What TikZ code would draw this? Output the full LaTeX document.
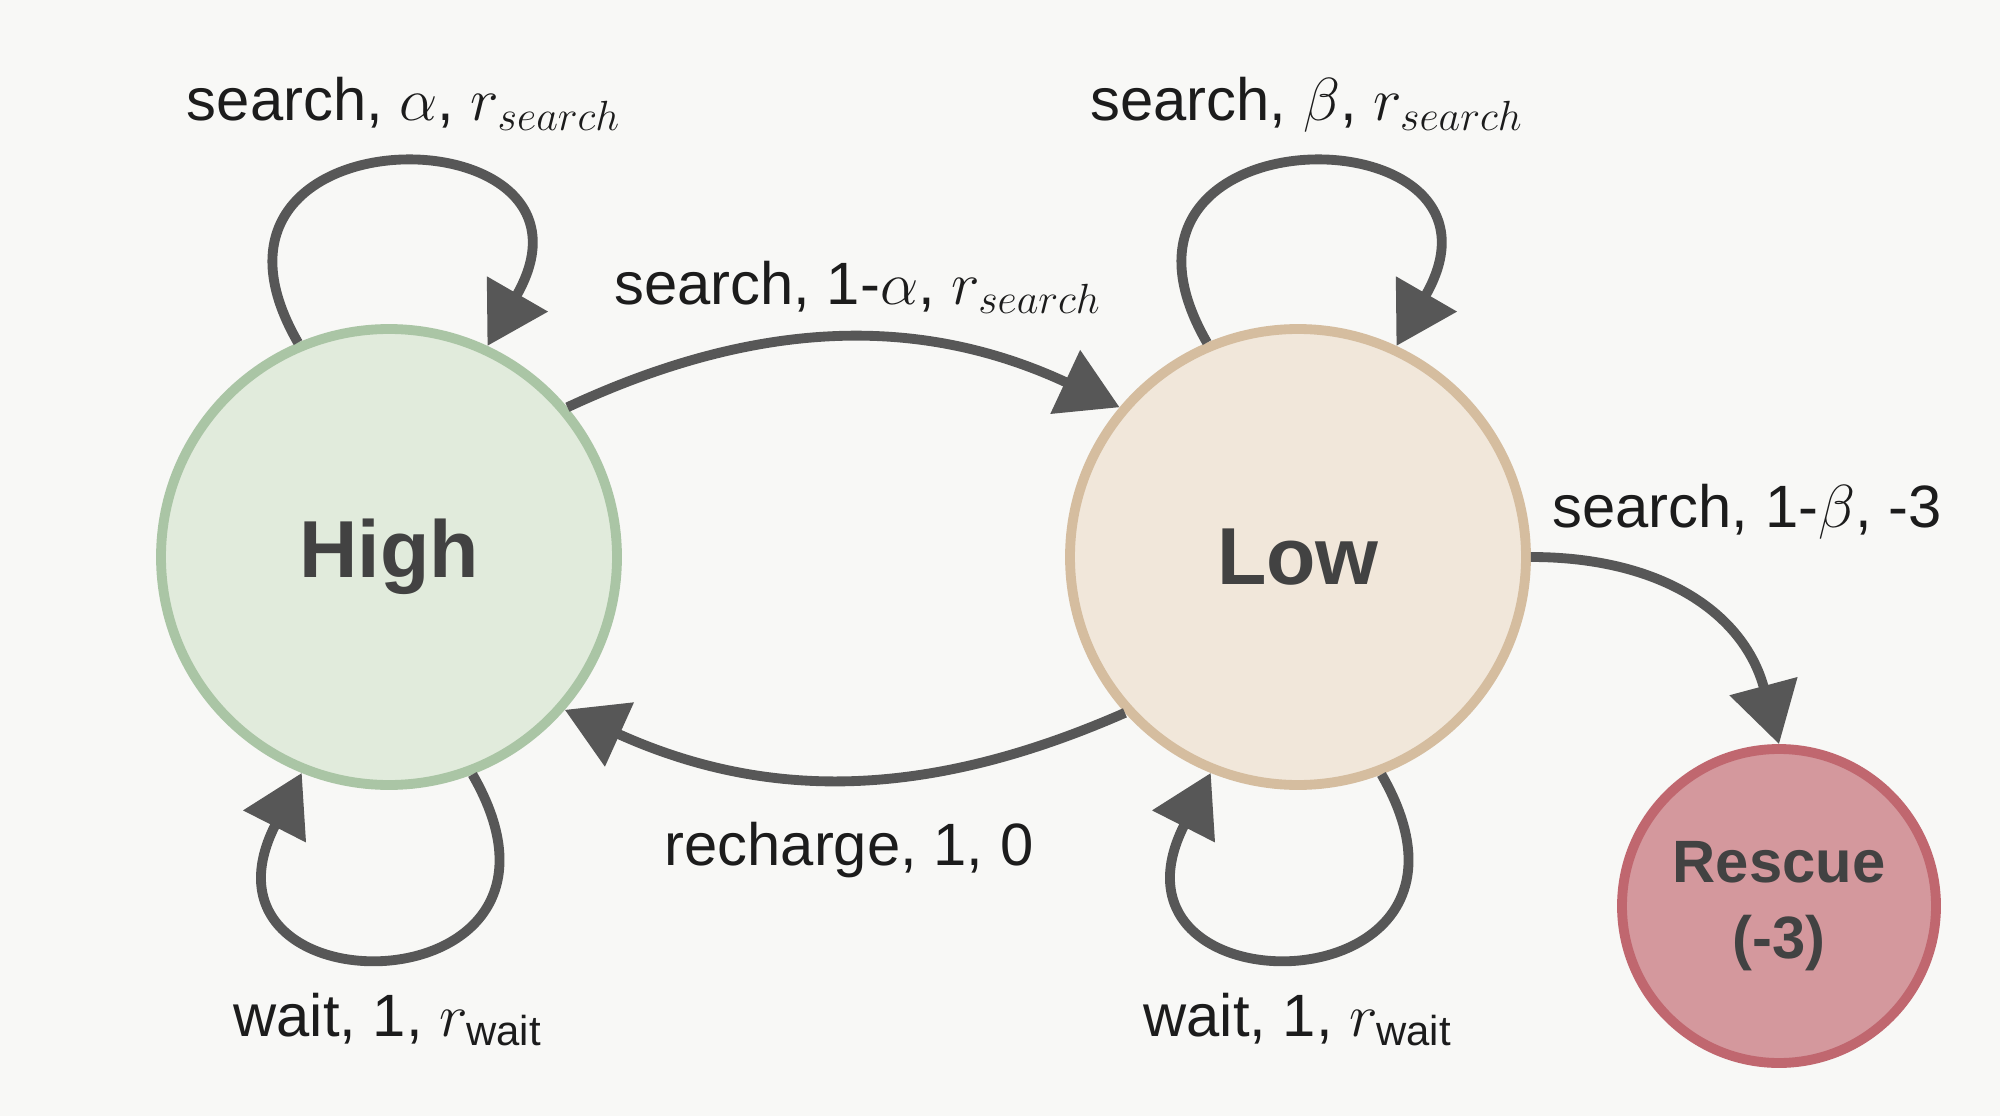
\documentclass[tikz,border=0pt]{standalone}
\usepackage{amsmath}
\usepackage{fontspec}
\setmainfont{Liberation Sans}
\usepackage{xcolor}
\usepackage{tikz}
\usetikzlibrary{arrows.meta,positioning}
\definecolor{FigureInk}{HTML}{1C1C1C}
\definecolor{StateInk}{HTML}{424242}
\definecolor{ArrowInk}{HTML}{575757}
\definecolor{PageBack}{HTML}{F8F8F6}
\definecolor{HighFill}{HTML}{E1EBDC}
\definecolor{HighEdge}{HTML}{AAC5A5}
\definecolor{LowFill}{HTML}{F1E7DA}
\definecolor{LowEdge}{HTML}{D5BD9F}
\definecolor{RescueFill}{HTML}{D4989D}
\definecolor{RescueEdge}{HTML}{C0676F}

\begin{document}
\begin{tikzpicture}[
  text=FigureInk,
  >={Triangle[length=6mm,width=6.8mm]},
  state/.style={circle,line width=2.8pt,minimum size=4.56cm,inner sep=0pt,
                font=\fontsize{23}{27}\selectfont\bfseries,text=StateInk},
  link/.style={->,draw=ArrowInk,line width=2.8pt},
  edgelabel/.style={font=\fontsize{17}{20}\selectfont,anchor=base},
]
  \fill[PageBack] (0,0) rectangle (20,11.16);
  \useasboundingbox (0,0) rectangle (20,11.16);

  \node[state,fill=HighFill,draw=HighEdge] (high) at (3.89,5.59) {High};
  \node[state,fill=LowFill,draw=LowEdge] (low) at (12.98,5.59) {Low};
  \node[state,fill=RescueFill,draw=RescueEdge,minimum size=3.14cm,align=center,
        font=\fontsize{17}{21.5}\selectfont\bfseries] (rescue) at (17.79,2.10)
    {Rescue\\(-3)};

  \draw[link] (high.113) to[out=120,in=60,looseness=3.7] (high.65);
  \draw[link] (low.113) to[out=120,in=60,looseness=3.7] (low.65);
  \draw[link] (high.-69) to[out=-60,in=-117,looseness=4.1] (high.-112);
  \draw[link] (low.-69) to[out=-60,in=-117,looseness=4.1] (low.-112);
  \draw[link] (high.40) to[bend left=25] (low.140);
  \draw[link] (low.-138) to[bend left=24] (high.-41);
  \draw[link] (low.east) to[out=0,in=105,looseness=1.1] (rescue.north);

  \node[edgelabel] (lblhightop) at (4.04,9.95) {search, $\alpha$, $r_{search}$};
  \node[edgelabel] (lblforward) at (8.58,8.12) {search, 1-$\alpha$, $r_{search}$};
  \node[edgelabel] (lbllowtop) at (13.07,9.95) {search, $\beta$, $r_{search}$};
  \node[edgelabel] (lblrescue) at (17.47,5.89) {search, 1-$\beta$, -3};
  \node[edgelabel] (lblback) at (8.49,2.51) {recharge, 1, 0};
  \node[edgelabel] (lblhighbot) at (3.88,0.80) {wait, 1, $r_{\text{wait}}$};
  \node[edgelabel] (lbllowbot) at (12.98,0.80) {wait, 1, $r_{\text{wait}}$};
\end{tikzpicture}
\end{document}
